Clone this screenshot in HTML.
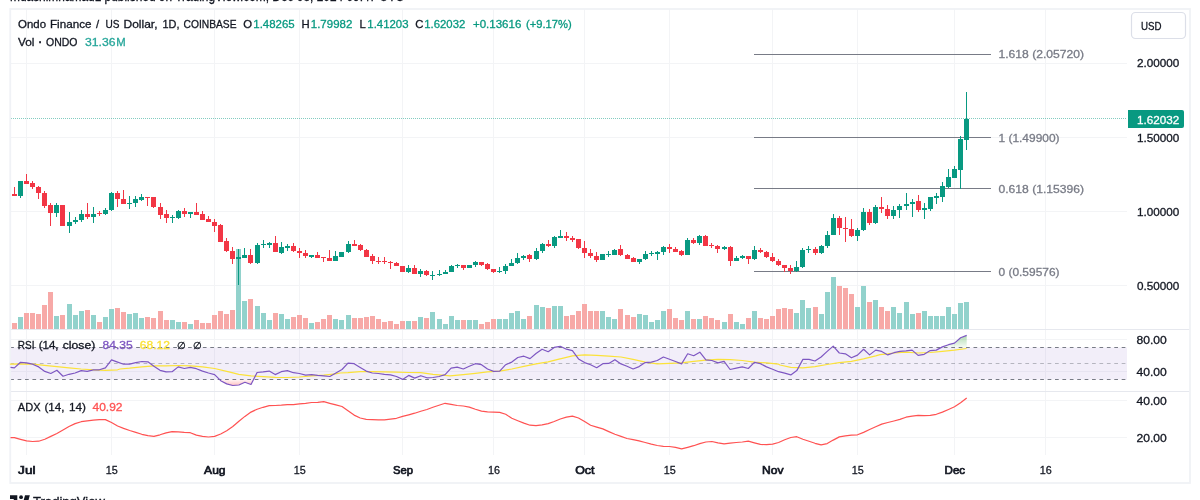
<!DOCTYPE html>
<html lang="en"><head><meta charset="utf-8"><title>ONDOUSD chart</title>
<style>html,body{margin:0;padding:0;background:#fff;overflow:hidden}svg{display:block}</style></head>
<body>
<svg width="1200" height="500" viewBox="0 0 1200 500">
<rect width="1200" height="500" fill="#fff"/>
<g shape-rendering="crispEdges" fill="#f3f4f6">
<rect x="26" y="9" width="1" height="446"/>
<rect x="111" y="9" width="1" height="446"/>
<rect x="214" y="9" width="1" height="446"/>
<rect x="299" y="9" width="1" height="446"/>
<rect x="402" y="9" width="1" height="446"/>
<rect x="493" y="9" width="1" height="446"/>
<rect x="584" y="9" width="1" height="446"/>
<rect x="669" y="9" width="1" height="446"/>
<rect x="772" y="9" width="1" height="446"/>
<rect x="857" y="9" width="1" height="446"/>
<rect x="954" y="9" width="1" height="446"/>
<rect x="1045" y="9" width="1" height="446"/>
<rect x="11" y="63" width="1116" height="1"/>
<rect x="11" y="137" width="1116" height="1"/>
<rect x="11" y="211" width="1116" height="1"/>
<rect x="11" y="285" width="1116" height="1"/>
<rect x="11" y="339" width="1116" height="1"/>
<rect x="11" y="371" width="1116" height="1"/>
<rect x="11" y="400" width="1116" height="1"/>
<rect x="11" y="437" width="1116" height="1"/>
</g>
<rect x="11" y="347.5" width="1116" height="32" fill="#7e57c2" fill-opacity="0.1"/>
<g stroke="#787b86" stroke-width="1" stroke-dasharray="3.7 3.71">
<line x1="10.2" x2="1127" y1="347.5" y2="347.5"/>
<line x1="10.2" x2="1127" y1="363.5" y2="363.5" stroke-opacity="0.5"/>
<line x1="10.2" x2="1127" y1="379.5" y2="379.5"/>
</g>
<g shape-rendering="crispEdges">
<rect x="11" y="315" width="0" height="14" fill="#f7a9a7"/>
<rect x="12" y="323" width="5" height="6" fill="#f7a9a7"/>
<rect x="18" y="317" width="5" height="12" fill="#92d2cc"/>
<rect x="24" y="313" width="5" height="16" fill="#f7a9a7"/>
<rect x="30" y="313" width="5" height="16" fill="#f7a9a7"/>
<rect x="36" y="314" width="5" height="15" fill="#f7a9a7"/>
<rect x="42" y="305" width="5" height="24" fill="#f7a9a7"/>
<rect x="48" y="292" width="5" height="37" fill="#f7a9a7"/>
<rect x="54" y="316" width="5" height="13" fill="#92d2cc"/>
<rect x="60" y="315" width="5" height="14" fill="#f7a9a7"/>
<rect x="67" y="304" width="5" height="25" fill="#92d2cc"/>
<rect x="73" y="315" width="5" height="14" fill="#92d2cc"/>
<rect x="79" y="311" width="5" height="18" fill="#92d2cc"/>
<rect x="85" y="310" width="5" height="19" fill="#f7a9a7"/>
<rect x="91" y="315" width="5" height="14" fill="#92d2cc"/>
<rect x="97" y="322" width="5" height="7" fill="#f7a9a7"/>
<rect x="103" y="317" width="5" height="12" fill="#92d2cc"/>
<rect x="109" y="309" width="5" height="20" fill="#92d2cc"/>
<rect x="115" y="308" width="5" height="21" fill="#f7a9a7"/>
<rect x="121" y="312" width="5" height="17" fill="#f7a9a7"/>
<rect x="127" y="314" width="5" height="15" fill="#92d2cc"/>
<rect x="133" y="313" width="5" height="16" fill="#92d2cc"/>
<rect x="139" y="318" width="5" height="11" fill="#92d2cc"/>
<rect x="145" y="317" width="5" height="12" fill="#f7a9a7"/>
<rect x="151" y="318" width="5" height="11" fill="#f7a9a7"/>
<rect x="158" y="311" width="5" height="18" fill="#f7a9a7"/>
<rect x="164" y="320" width="5" height="9" fill="#f7a9a7"/>
<rect x="170" y="320" width="5" height="9" fill="#92d2cc"/>
<rect x="176" y="322" width="5" height="7" fill="#92d2cc"/>
<rect x="182" y="322" width="5" height="7" fill="#f7a9a7"/>
<rect x="188" y="324" width="5" height="5" fill="#92d2cc"/>
<rect x="194" y="320" width="5" height="9" fill="#f7a9a7"/>
<rect x="200" y="323" width="5" height="6" fill="#f7a9a7"/>
<rect x="206" y="323" width="5" height="6" fill="#f7a9a7"/>
<rect x="212" y="315" width="5" height="14" fill="#f7a9a7"/>
<rect x="218" y="311" width="5" height="18" fill="#f7a9a7"/>
<rect x="224" y="314" width="5" height="15" fill="#f7a9a7"/>
<rect x="230" y="310" width="5" height="19" fill="#f7a9a7"/>
<rect x="236" y="249" width="5" height="80" fill="#92d2cc"/>
<rect x="242" y="301" width="5" height="28" fill="#92d2cc"/>
<rect x="248" y="299" width="5" height="30" fill="#f7a9a7"/>
<rect x="255" y="306" width="5" height="23" fill="#92d2cc"/>
<rect x="261" y="313" width="5" height="16" fill="#92d2cc"/>
<rect x="267" y="320" width="5" height="9" fill="#92d2cc"/>
<rect x="273" y="313" width="5" height="16" fill="#f7a9a7"/>
<rect x="279" y="314" width="5" height="15" fill="#92d2cc"/>
<rect x="285" y="319" width="5" height="10" fill="#92d2cc"/>
<rect x="291" y="317" width="5" height="12" fill="#f7a9a7"/>
<rect x="297" y="315" width="5" height="14" fill="#f7a9a7"/>
<rect x="303" y="318" width="5" height="11" fill="#f7a9a7"/>
<rect x="309" y="323" width="5" height="6" fill="#92d2cc"/>
<rect x="315" y="322" width="5" height="7" fill="#f7a9a7"/>
<rect x="321" y="319" width="5" height="10" fill="#f7a9a7"/>
<rect x="327" y="315" width="5" height="14" fill="#f7a9a7"/>
<rect x="333" y="319" width="5" height="10" fill="#92d2cc"/>
<rect x="339" y="320" width="5" height="9" fill="#92d2cc"/>
<rect x="346" y="315" width="5" height="14" fill="#92d2cc"/>
<rect x="352" y="318" width="5" height="11" fill="#f7a9a7"/>
<rect x="358" y="318" width="5" height="11" fill="#f7a9a7"/>
<rect x="364" y="317" width="5" height="12" fill="#f7a9a7"/>
<rect x="370" y="316" width="5" height="13" fill="#f7a9a7"/>
<rect x="376" y="319" width="5" height="10" fill="#f7a9a7"/>
<rect x="382" y="322" width="5" height="7" fill="#f7a9a7"/>
<rect x="388" y="321" width="5" height="8" fill="#f7a9a7"/>
<rect x="394" y="324" width="5" height="5" fill="#f7a9a7"/>
<rect x="400" y="321" width="5" height="8" fill="#f7a9a7"/>
<rect x="406" y="321" width="5" height="8" fill="#92d2cc"/>
<rect x="412" y="321" width="5" height="8" fill="#f7a9a7"/>
<rect x="418" y="317" width="5" height="12" fill="#92d2cc"/>
<rect x="424" y="318" width="5" height="11" fill="#f7a9a7"/>
<rect x="430" y="312" width="5" height="17" fill="#92d2cc"/>
<rect x="437" y="319" width="5" height="10" fill="#92d2cc"/>
<rect x="443" y="324" width="5" height="5" fill="#92d2cc"/>
<rect x="449" y="316" width="5" height="13" fill="#92d2cc"/>
<rect x="455" y="320" width="5" height="9" fill="#92d2cc"/>
<rect x="461" y="320" width="5" height="9" fill="#f7a9a7"/>
<rect x="467" y="320" width="5" height="9" fill="#92d2cc"/>
<rect x="473" y="320" width="5" height="9" fill="#92d2cc"/>
<rect x="479" y="324" width="5" height="5" fill="#f7a9a7"/>
<rect x="485" y="322" width="5" height="7" fill="#f7a9a7"/>
<rect x="491" y="319" width="5" height="10" fill="#f7a9a7"/>
<rect x="497" y="319" width="5" height="10" fill="#92d2cc"/>
<rect x="503" y="319" width="5" height="10" fill="#92d2cc"/>
<rect x="509" y="313" width="5" height="16" fill="#92d2cc"/>
<rect x="515" y="311" width="5" height="18" fill="#92d2cc"/>
<rect x="521" y="319" width="5" height="10" fill="#92d2cc"/>
<rect x="527" y="316" width="5" height="13" fill="#f7a9a7"/>
<rect x="534" y="305" width="5" height="24" fill="#92d2cc"/>
<rect x="540" y="307" width="5" height="22" fill="#92d2cc"/>
<rect x="546" y="308" width="5" height="21" fill="#f7a9a7"/>
<rect x="552" y="306" width="5" height="23" fill="#92d2cc"/>
<rect x="558" y="306" width="5" height="23" fill="#92d2cc"/>
<rect x="564" y="316" width="5" height="13" fill="#f7a9a7"/>
<rect x="570" y="315" width="5" height="14" fill="#f7a9a7"/>
<rect x="576" y="311" width="5" height="18" fill="#f7a9a7"/>
<rect x="582" y="304" width="5" height="25" fill="#f7a9a7"/>
<rect x="588" y="311" width="5" height="18" fill="#f7a9a7"/>
<rect x="594" y="311" width="5" height="18" fill="#f7a9a7"/>
<rect x="600" y="311" width="5" height="18" fill="#92d2cc"/>
<rect x="606" y="317" width="5" height="12" fill="#92d2cc"/>
<rect x="612" y="319" width="5" height="10" fill="#92d2cc"/>
<rect x="618" y="309" width="5" height="20" fill="#f7a9a7"/>
<rect x="625" y="315" width="5" height="14" fill="#f7a9a7"/>
<rect x="631" y="317" width="5" height="12" fill="#f7a9a7"/>
<rect x="637" y="314" width="5" height="15" fill="#92d2cc"/>
<rect x="643" y="315" width="5" height="14" fill="#92d2cc"/>
<rect x="649" y="322" width="5" height="7" fill="#92d2cc"/>
<rect x="655" y="320" width="5" height="9" fill="#92d2cc"/>
<rect x="661" y="311" width="5" height="18" fill="#92d2cc"/>
<rect x="667" y="309" width="5" height="20" fill="#f7a9a7"/>
<rect x="673" y="318" width="5" height="11" fill="#f7a9a7"/>
<rect x="679" y="320" width="5" height="9" fill="#f7a9a7"/>
<rect x="685" y="311" width="5" height="18" fill="#92d2cc"/>
<rect x="691" y="319" width="5" height="10" fill="#f7a9a7"/>
<rect x="697" y="319" width="5" height="10" fill="#92d2cc"/>
<rect x="703" y="316" width="5" height="13" fill="#f7a9a7"/>
<rect x="709" y="318" width="5" height="11" fill="#f7a9a7"/>
<rect x="715" y="320" width="5" height="9" fill="#f7a9a7"/>
<rect x="722" y="322" width="5" height="7" fill="#92d2cc"/>
<rect x="728" y="314" width="5" height="15" fill="#f7a9a7"/>
<rect x="734" y="322" width="5" height="7" fill="#92d2cc"/>
<rect x="740" y="324" width="5" height="5" fill="#92d2cc"/>
<rect x="746" y="318" width="5" height="11" fill="#f7a9a7"/>
<rect x="752" y="311" width="5" height="18" fill="#92d2cc"/>
<rect x="758" y="318" width="5" height="11" fill="#f7a9a7"/>
<rect x="764" y="319" width="5" height="10" fill="#f7a9a7"/>
<rect x="770" y="316" width="5" height="13" fill="#f7a9a7"/>
<rect x="776" y="309" width="5" height="20" fill="#f7a9a7"/>
<rect x="782" y="308" width="5" height="21" fill="#f7a9a7"/>
<rect x="788" y="309" width="5" height="20" fill="#f7a9a7"/>
<rect x="794" y="313" width="5" height="16" fill="#92d2cc"/>
<rect x="800" y="300" width="5" height="29" fill="#92d2cc"/>
<rect x="806" y="308" width="5" height="21" fill="#92d2cc"/>
<rect x="813" y="307" width="5" height="22" fill="#f7a9a7"/>
<rect x="819" y="314" width="5" height="15" fill="#92d2cc"/>
<rect x="825" y="292" width="5" height="37" fill="#92d2cc"/>
<rect x="831" y="277" width="5" height="52" fill="#92d2cc"/>
<rect x="837" y="286" width="5" height="43" fill="#f7a9a7"/>
<rect x="843" y="288" width="5" height="41" fill="#f7a9a7"/>
<rect x="849" y="294" width="5" height="35" fill="#f7a9a7"/>
<rect x="855" y="307" width="5" height="22" fill="#92d2cc"/>
<rect x="861" y="286" width="5" height="43" fill="#92d2cc"/>
<rect x="867" y="302" width="5" height="27" fill="#f7a9a7"/>
<rect x="873" y="300" width="5" height="29" fill="#92d2cc"/>
<rect x="879" y="307" width="5" height="22" fill="#f7a9a7"/>
<rect x="885" y="311" width="5" height="18" fill="#f7a9a7"/>
<rect x="891" y="307" width="5" height="22" fill="#92d2cc"/>
<rect x="897" y="313" width="5" height="16" fill="#92d2cc"/>
<rect x="904" y="302" width="5" height="27" fill="#92d2cc"/>
<rect x="910" y="314" width="5" height="15" fill="#92d2cc"/>
<rect x="916" y="313" width="5" height="16" fill="#f7a9a7"/>
<rect x="922" y="311" width="5" height="18" fill="#92d2cc"/>
<rect x="928" y="316" width="5" height="13" fill="#92d2cc"/>
<rect x="934" y="316" width="5" height="13" fill="#92d2cc"/>
<rect x="940" y="316" width="5" height="13" fill="#92d2cc"/>
<rect x="946" y="307" width="5" height="22" fill="#92d2cc"/>
<rect x="952" y="314" width="5" height="15" fill="#92d2cc"/>
<rect x="958" y="303" width="5" height="26" fill="#92d2cc"/>
<rect x="964" y="302" width="5" height="27" fill="#92d2cc"/>
</g>
<g stroke="#787b86" stroke-width="1" shape-rendering="crispEdges">
<line x1="754" x2="991" y1="54.5" y2="54.5"/>
<line x1="754" x2="991" y1="137.5" y2="137.5"/>
<line x1="754" x2="991" y1="188.5" y2="188.5"/>
<line x1="754" x2="991" y1="271.5" y2="271.5"/>
</g>
<line x1="11" x2="1127" y1="118.5" y2="118.5" stroke="#089981" stroke-width="1" stroke-dasharray="1 1" stroke-opacity="0.5" shape-rendering="crispEdges"/>
<g shape-rendering="crispEdges">
<rect x="14" y="187" width="1" height="9" fill="#f23645"/>
<rect x="12" y="194" width="5" height="2" fill="#f23645"/>
<rect x="20" y="181" width="1" height="17" fill="#089981"/>
<rect x="18" y="181" width="5" height="15" fill="#089981"/>
<rect x="26" y="174" width="1" height="10" fill="#f23645"/>
<rect x="24" y="181" width="5" height="3" fill="#f23645"/>
<rect x="32" y="181" width="1" height="8" fill="#f23645"/>
<rect x="30" y="183" width="5" height="4" fill="#f23645"/>
<rect x="38" y="186" width="1" height="13" fill="#f23645"/>
<rect x="36" y="187" width="5" height="6" fill="#f23645"/>
<rect x="44" y="191" width="1" height="17" fill="#f23645"/>
<rect x="42" y="193" width="5" height="13" fill="#f23645"/>
<rect x="50" y="203" width="1" height="23" fill="#f23645"/>
<rect x="48" y="205" width="5" height="8" fill="#f23645"/>
<rect x="56" y="203" width="1" height="14" fill="#089981"/>
<rect x="54" y="205" width="5" height="8" fill="#089981"/>
<rect x="62" y="205" width="1" height="21" fill="#f23645"/>
<rect x="60" y="205" width="5" height="21" fill="#f23645"/>
<rect x="69" y="212" width="1" height="21" fill="#089981"/>
<rect x="67" y="222" width="5" height="4" fill="#089981"/>
<rect x="75" y="217" width="1" height="7" fill="#089981"/>
<rect x="73" y="220" width="5" height="2" fill="#089981"/>
<rect x="81" y="210" width="1" height="12" fill="#089981"/>
<rect x="79" y="214" width="5" height="6" fill="#089981"/>
<rect x="87" y="203" width="1" height="16" fill="#f23645"/>
<rect x="85" y="214" width="5" height="3" fill="#f23645"/>
<rect x="93" y="207" width="1" height="16" fill="#089981"/>
<rect x="91" y="214" width="5" height="3" fill="#089981"/>
<rect x="99" y="211" width="1" height="5" fill="#f23645"/>
<rect x="97" y="213" width="5" height="1" fill="#f23645"/>
<rect x="105" y="208" width="1" height="7" fill="#089981"/>
<rect x="103" y="210" width="5" height="4" fill="#089981"/>
<rect x="111" y="192" width="1" height="19" fill="#089981"/>
<rect x="109" y="193" width="5" height="17" fill="#089981"/>
<rect x="117" y="191" width="1" height="16" fill="#f23645"/>
<rect x="115" y="193" width="5" height="6" fill="#f23645"/>
<rect x="123" y="190" width="1" height="14" fill="#f23645"/>
<rect x="121" y="199" width="5" height="5" fill="#f23645"/>
<rect x="129" y="196" width="1" height="13" fill="#089981"/>
<rect x="127" y="203" width="5" height="1" fill="#089981"/>
<rect x="135" y="196" width="1" height="11" fill="#089981"/>
<rect x="133" y="199" width="5" height="4" fill="#089981"/>
<rect x="141" y="194" width="1" height="7" fill="#089981"/>
<rect x="139" y="197" width="5" height="3" fill="#089981"/>
<rect x="147" y="197" width="1" height="9" fill="#f23645"/>
<rect x="145" y="197" width="5" height="1" fill="#f23645"/>
<rect x="153" y="197" width="1" height="11" fill="#f23645"/>
<rect x="151" y="197" width="5" height="10" fill="#f23645"/>
<rect x="160" y="203" width="1" height="16" fill="#f23645"/>
<rect x="158" y="207" width="5" height="8" fill="#f23645"/>
<rect x="166" y="210" width="1" height="13" fill="#f23645"/>
<rect x="164" y="214" width="5" height="4" fill="#f23645"/>
<rect x="172" y="215" width="1" height="8" fill="#089981"/>
<rect x="170" y="217" width="5" height="1" fill="#089981"/>
<rect x="178" y="210" width="1" height="9" fill="#089981"/>
<rect x="176" y="211" width="5" height="7" fill="#089981"/>
<rect x="184" y="208" width="1" height="9" fill="#f23645"/>
<rect x="182" y="211" width="5" height="3" fill="#f23645"/>
<rect x="190" y="212" width="1" height="6" fill="#089981"/>
<rect x="188" y="212" width="5" height="2" fill="#089981"/>
<rect x="196" y="203" width="1" height="12" fill="#f23645"/>
<rect x="194" y="212" width="5" height="3" fill="#f23645"/>
<rect x="202" y="211" width="1" height="9" fill="#f23645"/>
<rect x="200" y="214" width="5" height="6" fill="#f23645"/>
<rect x="208" y="216" width="1" height="6" fill="#f23645"/>
<rect x="206" y="219" width="5" height="3" fill="#f23645"/>
<rect x="214" y="219" width="1" height="13" fill="#f23645"/>
<rect x="212" y="222" width="5" height="4" fill="#f23645"/>
<rect x="220" y="224" width="1" height="18" fill="#f23645"/>
<rect x="218" y="225" width="5" height="17" fill="#f23645"/>
<rect x="226" y="238" width="1" height="14" fill="#f23645"/>
<rect x="224" y="241" width="5" height="10" fill="#f23645"/>
<rect x="232" y="247" width="1" height="17" fill="#f23645"/>
<rect x="230" y="251" width="5" height="8" fill="#f23645"/>
<rect x="238" y="249" width="1" height="36" fill="#089981"/>
<rect x="236" y="257" width="5" height="2" fill="#089981"/>
<rect x="244" y="248" width="1" height="10" fill="#089981"/>
<rect x="242" y="255" width="5" height="3" fill="#089981"/>
<rect x="250" y="249" width="1" height="15" fill="#f23645"/>
<rect x="248" y="255" width="5" height="8" fill="#f23645"/>
<rect x="257" y="243" width="1" height="21" fill="#089981"/>
<rect x="255" y="245" width="5" height="18" fill="#089981"/>
<rect x="263" y="240" width="1" height="8" fill="#089981"/>
<rect x="261" y="244" width="5" height="1" fill="#089981"/>
<rect x="269" y="242" width="1" height="6" fill="#089981"/>
<rect x="267" y="243" width="5" height="2" fill="#089981"/>
<rect x="275" y="236" width="1" height="16" fill="#f23645"/>
<rect x="273" y="243" width="5" height="9" fill="#f23645"/>
<rect x="281" y="242" width="1" height="12" fill="#089981"/>
<rect x="279" y="247" width="5" height="6" fill="#089981"/>
<rect x="287" y="244" width="1" height="7" fill="#089981"/>
<rect x="285" y="246" width="5" height="2" fill="#089981"/>
<rect x="293" y="243" width="1" height="9" fill="#f23645"/>
<rect x="291" y="246" width="5" height="5" fill="#f23645"/>
<rect x="299" y="248" width="1" height="10" fill="#f23645"/>
<rect x="297" y="251" width="5" height="2" fill="#f23645"/>
<rect x="305" y="250" width="1" height="8" fill="#f23645"/>
<rect x="303" y="253" width="5" height="3" fill="#f23645"/>
<rect x="311" y="255" width="1" height="3" fill="#089981"/>
<rect x="309" y="255" width="5" height="2" fill="#089981"/>
<rect x="317" y="252" width="1" height="6" fill="#f23645"/>
<rect x="315" y="255" width="5" height="3" fill="#f23645"/>
<rect x="323" y="257" width="1" height="5" fill="#f23645"/>
<rect x="321" y="257" width="5" height="1" fill="#f23645"/>
<rect x="329" y="250" width="1" height="11" fill="#f23645"/>
<rect x="327" y="258" width="5" height="3" fill="#f23645"/>
<rect x="335" y="251" width="1" height="10" fill="#089981"/>
<rect x="333" y="256" width="5" height="5" fill="#089981"/>
<rect x="341" y="252" width="1" height="5" fill="#089981"/>
<rect x="339" y="252" width="5" height="5" fill="#089981"/>
<rect x="348" y="241" width="1" height="12" fill="#089981"/>
<rect x="346" y="244" width="5" height="8" fill="#089981"/>
<rect x="354" y="240" width="1" height="6" fill="#f23645"/>
<rect x="352" y="244" width="5" height="2" fill="#f23645"/>
<rect x="360" y="244" width="1" height="7" fill="#f23645"/>
<rect x="358" y="245" width="5" height="5" fill="#f23645"/>
<rect x="366" y="249" width="1" height="8" fill="#f23645"/>
<rect x="364" y="250" width="5" height="7" fill="#f23645"/>
<rect x="372" y="254" width="1" height="10" fill="#f23645"/>
<rect x="370" y="256" width="5" height="5" fill="#f23645"/>
<rect x="378" y="257" width="1" height="7" fill="#f23645"/>
<rect x="376" y="261" width="5" height="1" fill="#f23645"/>
<rect x="384" y="257" width="1" height="7" fill="#f23645"/>
<rect x="382" y="261" width="5" height="1" fill="#f23645"/>
<rect x="390" y="261" width="1" height="8" fill="#f23645"/>
<rect x="388" y="262" width="5" height="1" fill="#f23645"/>
<rect x="396" y="262" width="1" height="4" fill="#f23645"/>
<rect x="394" y="263" width="5" height="3" fill="#f23645"/>
<rect x="402" y="266" width="1" height="6" fill="#f23645"/>
<rect x="400" y="266" width="5" height="6" fill="#f23645"/>
<rect x="408" y="265" width="1" height="8" fill="#089981"/>
<rect x="406" y="268" width="5" height="4" fill="#089981"/>
<rect x="414" y="265" width="1" height="9" fill="#f23645"/>
<rect x="412" y="268" width="5" height="6" fill="#f23645"/>
<rect x="420" y="269" width="1" height="8" fill="#089981"/>
<rect x="418" y="271" width="5" height="3" fill="#089981"/>
<rect x="426" y="270" width="1" height="6" fill="#f23645"/>
<rect x="424" y="271" width="5" height="4" fill="#f23645"/>
<rect x="432" y="271" width="1" height="9" fill="#089981"/>
<rect x="430" y="275" width="5" height="1" fill="#089981"/>
<rect x="439" y="270" width="1" height="6" fill="#089981"/>
<rect x="437" y="274" width="5" height="1" fill="#089981"/>
<rect x="445" y="270" width="1" height="4" fill="#089981"/>
<rect x="443" y="272" width="5" height="2" fill="#089981"/>
<rect x="451" y="265" width="1" height="7" fill="#089981"/>
<rect x="449" y="266" width="5" height="6" fill="#089981"/>
<rect x="457" y="264" width="1" height="4" fill="#089981"/>
<rect x="455" y="265" width="5" height="1" fill="#089981"/>
<rect x="463" y="265" width="1" height="5" fill="#f23645"/>
<rect x="461" y="265" width="5" height="3" fill="#f23645"/>
<rect x="469" y="265" width="1" height="3" fill="#089981"/>
<rect x="467" y="265" width="5" height="3" fill="#089981"/>
<rect x="475" y="261" width="1" height="6" fill="#089981"/>
<rect x="473" y="262" width="5" height="3" fill="#089981"/>
<rect x="481" y="262" width="1" height="4" fill="#f23645"/>
<rect x="479" y="262" width="5" height="3" fill="#f23645"/>
<rect x="487" y="263" width="1" height="7" fill="#f23645"/>
<rect x="485" y="264" width="5" height="5" fill="#f23645"/>
<rect x="493" y="269" width="1" height="4" fill="#f23645"/>
<rect x="491" y="269" width="5" height="3" fill="#f23645"/>
<rect x="499" y="267" width="1" height="6" fill="#089981"/>
<rect x="497" y="271" width="5" height="1" fill="#089981"/>
<rect x="505" y="264" width="1" height="10" fill="#089981"/>
<rect x="503" y="266" width="5" height="5" fill="#089981"/>
<rect x="511" y="259" width="1" height="7" fill="#089981"/>
<rect x="509" y="263" width="5" height="3" fill="#089981"/>
<rect x="517" y="253" width="1" height="11" fill="#089981"/>
<rect x="515" y="258" width="5" height="5" fill="#089981"/>
<rect x="523" y="255" width="1" height="5" fill="#089981"/>
<rect x="521" y="256" width="5" height="2" fill="#089981"/>
<rect x="529" y="254" width="1" height="8" fill="#f23645"/>
<rect x="527" y="255" width="5" height="4" fill="#f23645"/>
<rect x="536" y="248" width="1" height="12" fill="#089981"/>
<rect x="534" y="251" width="5" height="8" fill="#089981"/>
<rect x="542" y="243" width="1" height="10" fill="#089981"/>
<rect x="540" y="244" width="5" height="7" fill="#089981"/>
<rect x="548" y="240" width="1" height="7" fill="#f23645"/>
<rect x="546" y="244" width="5" height="2" fill="#f23645"/>
<rect x="554" y="236" width="1" height="12" fill="#089981"/>
<rect x="552" y="237" width="5" height="9" fill="#089981"/>
<rect x="560" y="230" width="1" height="8" fill="#089981"/>
<rect x="558" y="236" width="5" height="2" fill="#089981"/>
<rect x="566" y="232" width="1" height="9" fill="#f23645"/>
<rect x="564" y="236" width="5" height="2" fill="#f23645"/>
<rect x="572" y="236" width="1" height="6" fill="#f23645"/>
<rect x="570" y="238" width="5" height="2" fill="#f23645"/>
<rect x="578" y="239" width="1" height="10" fill="#f23645"/>
<rect x="576" y="239" width="5" height="9" fill="#f23645"/>
<rect x="584" y="241" width="1" height="17" fill="#f23645"/>
<rect x="582" y="248" width="5" height="5" fill="#f23645"/>
<rect x="590" y="249" width="1" height="9" fill="#f23645"/>
<rect x="588" y="253" width="5" height="3" fill="#f23645"/>
<rect x="596" y="252" width="1" height="10" fill="#f23645"/>
<rect x="594" y="256" width="5" height="4" fill="#f23645"/>
<rect x="602" y="254" width="1" height="6" fill="#089981"/>
<rect x="600" y="254" width="5" height="6" fill="#089981"/>
<rect x="608" y="251" width="1" height="6" fill="#089981"/>
<rect x="606" y="254" width="5" height="1" fill="#089981"/>
<rect x="614" y="249" width="1" height="6" fill="#089981"/>
<rect x="612" y="250" width="5" height="5" fill="#089981"/>
<rect x="620" y="245" width="1" height="11" fill="#f23645"/>
<rect x="618" y="249" width="5" height="6" fill="#f23645"/>
<rect x="627" y="254" width="1" height="5" fill="#f23645"/>
<rect x="625" y="255" width="5" height="4" fill="#f23645"/>
<rect x="633" y="257" width="1" height="5" fill="#f23645"/>
<rect x="631" y="258" width="5" height="4" fill="#f23645"/>
<rect x="639" y="259" width="1" height="5" fill="#089981"/>
<rect x="637" y="259" width="5" height="3" fill="#089981"/>
<rect x="645" y="251" width="1" height="9" fill="#089981"/>
<rect x="643" y="254" width="5" height="5" fill="#089981"/>
<rect x="651" y="251" width="1" height="5" fill="#089981"/>
<rect x="649" y="253" width="5" height="1" fill="#089981"/>
<rect x="657" y="251" width="1" height="9" fill="#089981"/>
<rect x="655" y="252" width="5" height="2" fill="#089981"/>
<rect x="663" y="246" width="1" height="9" fill="#089981"/>
<rect x="661" y="247" width="5" height="5" fill="#089981"/>
<rect x="669" y="244" width="1" height="9" fill="#f23645"/>
<rect x="667" y="247" width="5" height="2" fill="#f23645"/>
<rect x="675" y="247" width="1" height="5" fill="#f23645"/>
<rect x="673" y="249" width="5" height="3" fill="#f23645"/>
<rect x="681" y="250" width="1" height="6" fill="#f23645"/>
<rect x="679" y="251" width="5" height="4" fill="#f23645"/>
<rect x="687" y="238" width="1" height="17" fill="#089981"/>
<rect x="685" y="240" width="5" height="15" fill="#089981"/>
<rect x="693" y="238" width="1" height="6" fill="#f23645"/>
<rect x="691" y="240" width="5" height="3" fill="#f23645"/>
<rect x="699" y="235" width="1" height="10" fill="#089981"/>
<rect x="697" y="236" width="5" height="7" fill="#089981"/>
<rect x="705" y="235" width="1" height="11" fill="#f23645"/>
<rect x="703" y="236" width="5" height="10" fill="#f23645"/>
<rect x="711" y="243" width="1" height="5" fill="#f23645"/>
<rect x="709" y="245" width="5" height="1" fill="#f23645"/>
<rect x="717" y="245" width="1" height="8" fill="#f23645"/>
<rect x="715" y="246" width="5" height="3" fill="#f23645"/>
<rect x="724" y="246" width="1" height="4" fill="#089981"/>
<rect x="722" y="247" width="5" height="2" fill="#089981"/>
<rect x="730" y="246" width="1" height="20" fill="#f23645"/>
<rect x="728" y="247" width="5" height="14" fill="#f23645"/>
<rect x="736" y="256" width="1" height="5" fill="#089981"/>
<rect x="734" y="258" width="5" height="3" fill="#089981"/>
<rect x="742" y="255" width="1" height="4" fill="#089981"/>
<rect x="740" y="256" width="5" height="2" fill="#089981"/>
<rect x="748" y="256" width="1" height="8" fill="#f23645"/>
<rect x="746" y="256" width="5" height="3" fill="#f23645"/>
<rect x="754" y="246" width="1" height="14" fill="#089981"/>
<rect x="752" y="250" width="5" height="9" fill="#089981"/>
<rect x="760" y="248" width="1" height="5" fill="#f23645"/>
<rect x="758" y="250" width="5" height="2" fill="#f23645"/>
<rect x="766" y="251" width="1" height="7" fill="#f23645"/>
<rect x="764" y="252" width="5" height="5" fill="#f23645"/>
<rect x="772" y="253" width="1" height="9" fill="#f23645"/>
<rect x="770" y="257" width="5" height="4" fill="#f23645"/>
<rect x="778" y="259" width="1" height="7" fill="#f23645"/>
<rect x="776" y="261" width="5" height="4" fill="#f23645"/>
<rect x="784" y="265" width="1" height="7" fill="#f23645"/>
<rect x="782" y="265" width="5" height="3" fill="#f23645"/>
<rect x="790" y="265" width="1" height="9" fill="#f23645"/>
<rect x="788" y="268" width="5" height="3" fill="#f23645"/>
<rect x="796" y="261" width="1" height="11" fill="#089981"/>
<rect x="794" y="267" width="5" height="4" fill="#089981"/>
<rect x="802" y="248" width="1" height="20" fill="#089981"/>
<rect x="800" y="250" width="5" height="17" fill="#089981"/>
<rect x="808" y="246" width="1" height="7" fill="#089981"/>
<rect x="806" y="249" width="5" height="1" fill="#089981"/>
<rect x="815" y="247" width="1" height="8" fill="#f23645"/>
<rect x="813" y="249" width="5" height="4" fill="#f23645"/>
<rect x="821" y="245" width="1" height="9" fill="#089981"/>
<rect x="819" y="246" width="5" height="7" fill="#089981"/>
<rect x="827" y="231" width="1" height="17" fill="#089981"/>
<rect x="825" y="235" width="5" height="11" fill="#089981"/>
<rect x="833" y="214" width="1" height="21" fill="#089981"/>
<rect x="831" y="218" width="5" height="17" fill="#089981"/>
<rect x="839" y="216" width="1" height="19" fill="#f23645"/>
<rect x="837" y="218" width="5" height="10" fill="#f23645"/>
<rect x="845" y="217" width="1" height="25" fill="#f23645"/>
<rect x="843" y="228" width="5" height="1" fill="#f23645"/>
<rect x="851" y="219" width="1" height="18" fill="#f23645"/>
<rect x="849" y="229" width="5" height="7" fill="#f23645"/>
<rect x="857" y="228" width="1" height="13" fill="#089981"/>
<rect x="855" y="230" width="5" height="6" fill="#089981"/>
<rect x="863" y="208" width="1" height="23" fill="#089981"/>
<rect x="861" y="212" width="5" height="18" fill="#089981"/>
<rect x="869" y="209" width="1" height="16" fill="#f23645"/>
<rect x="867" y="212" width="5" height="11" fill="#f23645"/>
<rect x="875" y="205" width="1" height="19" fill="#089981"/>
<rect x="873" y="207" width="5" height="16" fill="#089981"/>
<rect x="881" y="197" width="1" height="16" fill="#f23645"/>
<rect x="879" y="207" width="5" height="2" fill="#f23645"/>
<rect x="887" y="205" width="1" height="14" fill="#f23645"/>
<rect x="885" y="209" width="5" height="7" fill="#f23645"/>
<rect x="893" y="206" width="1" height="13" fill="#089981"/>
<rect x="891" y="210" width="5" height="6" fill="#089981"/>
<rect x="899" y="204" width="1" height="14" fill="#089981"/>
<rect x="897" y="206" width="5" height="4" fill="#089981"/>
<rect x="906" y="193" width="1" height="17" fill="#089981"/>
<rect x="904" y="204" width="5" height="2" fill="#089981"/>
<rect x="912" y="199" width="1" height="18" fill="#089981"/>
<rect x="910" y="202" width="5" height="2" fill="#089981"/>
<rect x="918" y="195" width="1" height="17" fill="#f23645"/>
<rect x="916" y="201" width="5" height="9" fill="#f23645"/>
<rect x="924" y="203" width="1" height="16" fill="#089981"/>
<rect x="922" y="208" width="5" height="2" fill="#089981"/>
<rect x="930" y="197" width="1" height="14" fill="#089981"/>
<rect x="928" y="197" width="5" height="12" fill="#089981"/>
<rect x="936" y="193" width="1" height="11" fill="#089981"/>
<rect x="934" y="196" width="5" height="2" fill="#089981"/>
<rect x="942" y="182" width="1" height="20" fill="#089981"/>
<rect x="940" y="186" width="5" height="11" fill="#089981"/>
<rect x="948" y="169" width="1" height="19" fill="#089981"/>
<rect x="946" y="177" width="5" height="10" fill="#089981"/>
<rect x="954" y="166" width="1" height="12" fill="#089981"/>
<rect x="952" y="169" width="5" height="9" fill="#089981"/>
<rect x="960" y="136" width="1" height="53" fill="#089981"/>
<rect x="958" y="139" width="5" height="31" fill="#089981"/>
<rect x="966" y="92" width="1" height="58" fill="#089981"/>
<rect x="964" y="119" width="5" height="21" fill="#089981"/>
</g>
<g shape-rendering="crispEdges" fill="#e6e8ee">
<rect x="10" y="329" width="1180" height="1"/>
<rect x="10" y="391" width="1180" height="1"/>
</g>
<rect x="10.25" y="9" width="1179.75" height="474" fill="none" stroke="#f0f2f6" stroke-width="1.8"/>
<defs><linearGradient id="ob" x1="0" y1="0" x2="0" y2="1"><stop offset="0" stop-color="#4caf50" stop-opacity="0.45"/><stop offset="1" stop-color="#4caf50" stop-opacity="0.05"/></linearGradient><linearGradient id="os" x1="0" y1="0" x2="0" y2="1"><stop offset="0" stop-color="#ff5252" stop-opacity="0.05"/><stop offset="1" stop-color="#ff5252" stop-opacity="0.35"/></linearGradient></defs>
<path d="M941.3 347.5 L942.4 346.9 L948.5 344.7 L954.5 343.1 L960.6 337.8 L966.7 335.4 L966.7 347.5 Z" fill="url(#ob)"/>
<path d="M219.5 379.5 L220.7 380.7 L226.7 383.9 L232.8 385.5 L238.9 385.0 L244.9 382.3 L251.0 384.5 L253.5 379.5 Z" fill="url(#os)"/>
<path d="M9.9 364.2 L20.5 363.9 L32.5 364.2 L44.6 365.3 L56.8 366.6 L69.0 367.9 L81.1 369.0 L93.3 369.8 L105.4 370.3 L117.6 369.8 L120.0 369.0 L129.6 368.2 L141.8 366.9 L153.9 365.8 L166.1 365.8 L178.2 365.5 L190.4 365.8 L202.6 366.9 L214.6 368.5 L226.7 371.4 L230.0 372.2 L238.8 374.3 L251.0 375.9 L263.1 376.7 L275.3 377.3 L287.3 377.5 L299.4 377.0 L311.6 375.9 L323.8 375.1 L335.8 373.8 L340.0 373.0 L348.0 372.7 L360.2 371.7 L372.3 371.7 L384.3 371.9 L396.5 372.2 L408.6 372.5 L420.8 372.7 L433.0 374.3 L445.0 375.4 L450.0 375.9 L463.3 374.6 L475.4 373.3 L487.4 371.9 L499.6 371.1 L511.8 369.0 L523.9 366.3 L536.1 363.9 L548.1 361.8 L560.0 358.9 L560.2 358.9 L572.5 355.9 L584.5 354.9 L596.6 355.4 L608.8 356.2 L621.0 357.0 L633.1 359.4 L645.3 362.1 L657.3 363.9 L669.4 363.4 L670.0 363.4 L681.5 362.9 L693.7 361.3 L705.8 360.2 L718.0 359.4 L730.2 359.7 L742.3 360.5 L754.3 362.1 L766.5 362.9 L778.6 364.2 L780.0 365.0 L790.7 367.4 L802.9 367.9 L815.0 366.6 L827.0 364.5 L839.2 362.6 L851.4 361.3 L863.5 358.9 L875.7 355.9 L880.0 354.6 L887.7 353.8 L893.9 353.0 L905.9 352.2 L918.1 353.0 L930.2 352.5 L942.4 351.4 L954.4 350.1 L966.6 348.5" fill="none" stroke="#fbe23a" stroke-width="1.2" stroke-linejoin="round"/>
<path d="M10.5 367.4 L14.4 367.9 L20.5 362.3 L26.6 362.8 L32.6 364.2 L38.7 366.9 L44.8 371.4 L50.8 373.5 L56.9 370.3 L63.0 376.2 L69.0 374.3 L75.1 373.0 L81.2 370.6 L87.2 371.4 L93.3 369.8 L99.4 369.8 L105.4 367.9 L111.5 359.9 L117.6 362.1 L123.6 364.2 L129.7 364.2 L135.8 362.6 L141.8 361.5 L147.9 361.8 L153.9 366.3 L160.0 370.3 L166.1 371.9 L172.1 371.7 L178.2 366.9 L184.3 368.5 L190.3 367.4 L196.4 368.7 L202.5 371.1 L208.5 373.0 L214.6 374.6 L220.7 380.7 L226.7 383.9 L232.8 385.5 L238.9 385.0 L244.9 382.3 L251.0 384.5 L257.1 372.5 L263.1 371.9 L269.2 371.1 L275.2 374.6 L281.3 371.7 L287.4 370.6 L293.4 372.7 L299.5 373.5 L305.6 375.1 L311.6 374.6 L317.7 375.4 L323.8 375.9 L329.8 376.5 L335.9 373.0 L342.0 369.5 L348.0 363.1 L354.1 363.7 L360.2 367.4 L366.2 371.1 L372.3 373.0 L378.4 373.5 L384.4 374.3 L390.5 374.9 L396.5 376.5 L402.6 379.4 L408.7 375.4 L414.7 378.1 L420.8 375.7 L426.9 377.8 L432.9 377.5 L439.0 376.5 L445.1 374.6 L451.1 368.2 L457.2 367.1 L463.3 369.0 L469.3 366.3 L475.4 363.7 L481.5 364.7 L487.5 369.0 L493.6 371.4 L499.7 371.1 L505.7 364.7 L511.8 362.1 L517.8 357.5 L523.9 356.2 L530.0 358.6 L536.0 353.5 L542.1 349.3 L548.2 351.7 L554.2 347.4 L560.3 346.3 L566.4 349.2 L572.4 350.6 L578.5 358.9 L584.6 362.6 L590.6 364.7 L596.7 367.7 L602.8 363.7 L608.8 363.4 L614.9 359.7 L621.0 363.9 L627.0 366.3 L633.1 369.0 L639.1 366.6 L645.2 362.6 L651.3 362.1 L657.3 360.5 L663.4 357.0 L669.5 359.2 L675.5 361.5 L681.6 363.9 L687.7 353.8 L693.7 355.7 L699.8 352.2 L705.9 359.9 L711.9 360.5 L718.0 362.9 L724.1 361.3 L730.1 369.5 L736.2 368.2 L742.3 366.9 L748.3 368.5 L754.4 362.3 L760.4 363.7 L766.5 366.9 L772.6 369.3 L778.6 371.7 L784.7 373.2 L790.8 374.9 L796.8 370.6 L802.9 359.4 L809.0 359.4 L815.0 361.0 L821.1 357.0 L827.2 351.4 L833.2 346.1 L839.3 353.0 L845.4 353.8 L851.4 357.8 L857.5 355.1 L863.6 349.3 L869.6 354.9 L875.7 350.1 L881.7 351.4 L887.8 354.9 L893.9 352.7 L899.9 351.4 L906.0 350.9 L912.1 350.1 L918.1 355.4 L924.2 354.3 L930.3 350.6 L936.3 350.1 L942.4 346.9 L948.5 344.7 L954.5 343.1 L960.6 337.8 L966.7 335.4" fill="none" stroke="#7e57c2" stroke-width="1.2" stroke-linejoin="round"/>
<path d="M10.5 437.7 L14.4 437.7 L20.5 439.3 L26.6 440.9 L32.6 441.5 L38.7 441.2 L44.8 439.3 L50.8 436.4 L56.9 433.5 L63.0 430.0 L69.0 426.5 L75.1 423.6 L81.2 421.7 L87.2 420.9 L93.3 420.1 L99.4 419.6 L105.4 419.6 L111.5 422.5 L117.6 426.0 L123.6 428.4 L129.7 430.5 L135.8 432.4 L141.8 434.3 L147.9 435.6 L153.9 436.4 L160.0 434.8 L166.1 432.9 L172.1 431.6 L178.2 431.9 L184.3 432.4 L190.3 432.7 L196.4 435.1 L202.5 436.4 L208.5 437.0 L214.6 436.4 L220.7 434.0 L226.7 430.8 L232.8 426.5 L238.9 421.2 L244.9 416.4 L251.0 412.1 L257.1 409.2 L263.1 407.3 L269.2 405.7 L275.2 405.5 L281.3 405.2 L287.4 404.7 L293.4 404.7 L299.5 403.9 L305.6 403.3 L311.6 402.5 L317.7 402.3 L323.8 401.7 L329.8 403.3 L335.9 404.9 L342.0 406.5 L348.0 410.8 L354.1 415.1 L360.2 418.0 L366.2 419.3 L372.3 419.6 L378.4 419.9 L384.4 419.9 L390.5 419.1 L396.5 418.3 L402.6 416.4 L408.7 414.8 L414.7 413.2 L420.8 411.3 L426.9 409.5 L432.9 407.3 L439.0 405.2 L445.1 403.3 L451.1 404.4 L457.2 405.5 L463.3 406.0 L469.3 407.1 L475.4 409.2 L481.5 411.1 L487.5 411.9 L493.6 412.1 L499.7 412.4 L505.7 414.3 L511.8 418.3 L517.8 420.7 L523.9 423.1 L530.0 425.2 L536.0 425.7 L542.1 424.9 L548.2 423.6 L554.2 421.5 L560.3 419.0 L566.4 417.2 L572.4 416.1 L578.5 418.0 L584.6 421.5 L590.6 425.2 L596.7 427.1 L602.8 428.9 L608.8 431.6 L614.9 434.3 L621.0 436.4 L627.0 438.5 L633.1 439.6 L639.1 440.9 L645.2 442.5 L651.3 444.1 L657.3 445.5 L663.4 446.3 L669.5 446.5 L675.5 447.3 L681.6 448.9 L687.7 447.3 L693.7 445.7 L699.8 443.6 L705.9 442.0 L711.9 441.5 L718.0 442.8 L724.1 443.9 L730.1 443.1 L736.2 442.5 L742.3 442.0 L748.3 441.2 L754.4 442.8 L760.4 444.4 L766.5 444.7 L772.6 444.1 L778.6 442.5 L784.7 439.8 L790.8 437.5 L796.8 436.7 L802.9 439.3 L809.0 441.2 L815.0 443.3 L821.1 444.9 L827.2 443.6 L833.2 440.1 L839.3 436.9 L845.4 435.9 L851.4 435.1 L857.5 434.8 L863.6 432.4 L869.6 429.5 L875.7 426.8 L881.7 424.1 L887.8 422.5 L893.9 421.0 L899.9 419.4 L906.0 417.2 L912.1 416.1 L918.1 415.3 L924.2 415.6 L930.3 415.3 L936.3 414.3 L942.4 412.1 L948.5 409.5 L954.5 406.8 L960.6 402.8 L966.7 398.0" fill="none" stroke="#ff5252" stroke-width="1.2" stroke-linejoin="round"/>
<g font-family='"Trebuchet MS","Liberation Sans",Arial,sans-serif' font-size="11.3" stroke-width="0.3">
<text x="10" y="1" fill="#131722" stroke="#131722" textLength="394" lengthAdjust="spacingAndGlyphs" font-size="14" >mdashimhamad1 published on TradingView.com, Dec 03, 2024 09:47 UTC</text>
<text x="18.0" y="28.2" fill="#131722" stroke="#131722" textLength="28.0" lengthAdjust="spacingAndGlyphs" >Ondo</text>
<text x="50.0" y="28.2" fill="#131722" stroke="#131722" textLength="41.5" lengthAdjust="spacingAndGlyphs" >Finance</text>
<text x="96.0" y="28.2" fill="#131722" stroke="#131722" >/</text>
<text x="105.5" y="28.2" fill="#131722" stroke="#131722" textLength="14.0" lengthAdjust="spacingAndGlyphs" >US</text>
<text x="123.5" y="28.2" fill="#131722" stroke="#131722" textLength="34.0" lengthAdjust="spacingAndGlyphs" >Dollar,</text>
<text x="162.5" y="28.2" fill="#131722" stroke="#131722" textLength="17.0" lengthAdjust="spacingAndGlyphs" >1D,</text>
<text x="183.5" y="28.2" fill="#131722" stroke="#131722" textLength="53.0" lengthAdjust="spacingAndGlyphs" >COINBASE</text>
<text x="243.3" y="28.2" fill="#131722" stroke="#131722" >O</text>
<text x="301.5" y="28.2" fill="#131722" stroke="#131722" >H</text>
<text x="359.5" y="28.2" fill="#131722" stroke="#131722" >L</text>
<text x="415.3" y="28.2" fill="#131722" stroke="#131722" >C</text>
<text x="253.3" y="28.2" fill="#089981" stroke="#089981" textLength="41.4" lengthAdjust="spacingAndGlyphs" >1.48265</text>
<text x="310.8" y="28.2" fill="#089981" stroke="#089981" textLength="41.5" lengthAdjust="spacingAndGlyphs" >1.79982</text>
<text x="367.3" y="28.2" fill="#089981" stroke="#089981" textLength="41.2" lengthAdjust="spacingAndGlyphs" >1.41203</text>
<text x="424.3" y="28.2" fill="#089981" stroke="#089981" textLength="41.0" lengthAdjust="spacingAndGlyphs" >1.62032</text>
<text x="473.0" y="28.2" fill="#089981" stroke="#089981" textLength="48.3" lengthAdjust="spacingAndGlyphs" >+0.13616</text>
<text x="526.0" y="28.2" fill="#089981" stroke="#089981" textLength="45.7" lengthAdjust="spacingAndGlyphs" >(+9.17%)</text>
<text x="18.0" y="45.6" fill="#131722" stroke="#131722" textLength="16.5" lengthAdjust="spacingAndGlyphs" >Vol</text>
<text x="38.5" y="45.6" fill="#131722" stroke="#131722" font-weight="bold" >·</text>
<text x="46.0" y="45.6" fill="#131722" stroke="#131722" textLength="31.5" lengthAdjust="spacingAndGlyphs" >ONDO</text>
<text x="85.0" y="45.6" fill="#26a69a" stroke="#26a69a" textLength="30.5" lengthAdjust="spacingAndGlyphs" >31.36</text>
<text x="116.3" y="45.6" fill="#26a69a" stroke="#26a69a" >M</text>
<text x="17.8" y="348.8" fill="#131722" stroke="#131722" textLength="16.7" lengthAdjust="spacingAndGlyphs" >RSI</text>
<text x="38.7" y="348.8" fill="#131722" stroke="#131722" textLength="19.8" lengthAdjust="spacingAndGlyphs" >(14,</text>
<text x="62.8" y="348.8" fill="#131722" stroke="#131722" textLength="32.4" lengthAdjust="spacingAndGlyphs" >close)</text>
<text x="102.5" y="348.8" fill="#7e57c2" stroke="#7e57c2" textLength="30.2" lengthAdjust="spacingAndGlyphs" >84.35</text>
<text x="139.8" y="348.8" fill="#fbe23a" stroke="#fbe23a" textLength="30.2" lengthAdjust="spacingAndGlyphs" >68.12</text>
<text x="176.7" y="348.8" fill="#131722" stroke="#131722" font-size="10" >∅</text>
<text x="192.5" y="348.8" fill="#131722" stroke="#131722" font-size="10" >∅</text>
<text x="17.8" y="411.4" fill="#131722" stroke="#131722" textLength="22.7" lengthAdjust="spacingAndGlyphs" >ADX</text>
<text x="44.5" y="411.4" fill="#131722" stroke="#131722" textLength="20.0" lengthAdjust="spacingAndGlyphs" >(14,</text>
<text x="69.0" y="411.4" fill="#131722" stroke="#131722" textLength="17.0" lengthAdjust="spacingAndGlyphs" >14)</text>
<text x="92.5" y="411.4" fill="#ff5252" stroke="#ff5252" textLength="30.0" lengthAdjust="spacingAndGlyphs" >40.92</text>
<text x="998.5" y="58" fill="#787b86" stroke="#787b86" textLength="85.5" lengthAdjust="spacingAndGlyphs" >1.618 (2.05720)</text>
<text x="998.5" y="141.5" fill="#787b86" stroke="#787b86" textLength="61" lengthAdjust="spacingAndGlyphs" >1 (1.49900)</text>
<text x="998.5" y="192.5" fill="#787b86" stroke="#787b86" textLength="85.5" lengthAdjust="spacingAndGlyphs" >0.618 (1.15396)</text>
<text x="998.5" y="275.5" fill="#787b86" stroke="#787b86" textLength="61" lengthAdjust="spacingAndGlyphs" >0 (0.59576)</text>
<text x="1137" y="66.5" fill="#131722" stroke="#131722" textLength="42.3" lengthAdjust="spacingAndGlyphs" >2.00000</text>
<text x="1137" y="141.5" fill="#131722" stroke="#131722" textLength="42.3" lengthAdjust="spacingAndGlyphs" >1.50000</text>
<text x="1137" y="215.5" fill="#131722" stroke="#131722" textLength="42.3" lengthAdjust="spacingAndGlyphs" >1.00000</text>
<text x="1137" y="289.5" fill="#131722" stroke="#131722" textLength="42.3" lengthAdjust="spacingAndGlyphs" >0.50000</text>
<text x="1136.5" y="343.5" fill="#131722" stroke="#131722" textLength="30.3" lengthAdjust="spacingAndGlyphs" >80.00</text>
<text x="1136.5" y="375.5" fill="#131722" stroke="#131722" textLength="30.3" lengthAdjust="spacingAndGlyphs" >40.00</text>
<text x="1136.5" y="404.5" fill="#131722" stroke="#131722" textLength="30.3" lengthAdjust="spacingAndGlyphs" >40.00</text>
<text x="1136.5" y="441.5" fill="#131722" stroke="#131722" textLength="30.3" lengthAdjust="spacingAndGlyphs" >20.00</text>
<rect x="1131.5" y="12.5" width="54" height="26" rx="4" fill="#fff" stroke="#dcdfe8" stroke-width="1.2"/>
<text x="1141" y="30" fill="#131722" stroke="#131722" textLength="20.5" lengthAdjust="spacingAndGlyphs" >USD</text>
<path d="M1128 110h54a2 2 0 0 1 2 2v14a2 2 0 0 1 -2 2h-54z" fill="#089981"/>
<text x="1137" y="123.5" fill="#fff" stroke="#fff" textLength="42.3" lengthAdjust="spacingAndGlyphs" >1.62032</text>
<text x="18.1" y="474" fill="#131722" stroke="#131722" textLength="17.5" lengthAdjust="spacingAndGlyphs" stroke-width="0.7">Jul</text>
<text x="105.8" y="474" fill="#131722" stroke="#131722" textLength="12" lengthAdjust="spacingAndGlyphs" >15</text>
<text x="204.1" y="474" fill="#131722" stroke="#131722" textLength="21.5" lengthAdjust="spacingAndGlyphs" stroke-width="0.7">Aug</text>
<text x="293.8" y="474" fill="#131722" stroke="#131722" textLength="12" lengthAdjust="spacingAndGlyphs" >15</text>
<text x="392.9" y="474" fill="#131722" stroke="#131722" textLength="20" lengthAdjust="spacingAndGlyphs" stroke-width="0.7">Sep</text>
<text x="487.9" y="474" fill="#131722" stroke="#131722" textLength="12" lengthAdjust="spacingAndGlyphs" >16</text>
<text x="575.2" y="474" fill="#131722" stroke="#131722" textLength="19.3" lengthAdjust="spacingAndGlyphs" stroke-width="0.7">Oct</text>
<text x="663.8" y="474" fill="#131722" stroke="#131722" textLength="12" lengthAdjust="spacingAndGlyphs" >15</text>
<text x="762.1" y="474" fill="#131722" stroke="#131722" textLength="21.5" lengthAdjust="spacingAndGlyphs" stroke-width="0.7">Nov</text>
<text x="851.8" y="474" fill="#131722" stroke="#131722" textLength="12" lengthAdjust="spacingAndGlyphs" >15</text>
<text x="944.6" y="474" fill="#131722" stroke="#131722" textLength="20.5" lengthAdjust="spacingAndGlyphs" stroke-width="0.7">Dec</text>
<text x="1039.8" y="474" fill="#131722" stroke="#131722" textLength="12" lengthAdjust="spacingAndGlyphs" >16</text>
<g fill="#131722"><path d="M10 495.2h7.3v10h-3.55v-6.2h-3.75z"/><circle cx="21.05" cy="497.2" r="1.9"/><path d="M25 495.2h4.8l-2.55 9.8h-4.8z"/></g>
<text x="33" y="506.3" fill="#131722" stroke="#131722" textLength="72" lengthAdjust="spacingAndGlyphs" font-size="13" >TradingView</text>
</g>
</svg>
</body></html>
